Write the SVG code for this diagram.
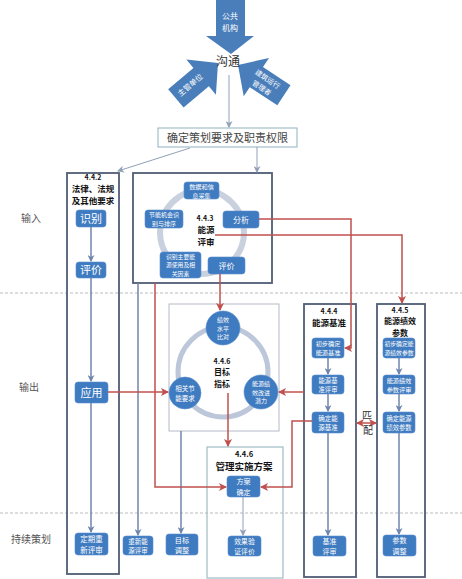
<svg xmlns="http://www.w3.org/2000/svg" width="462" height="579" viewBox="0 0 462 579">
<defs>
<style>
.lane{fill:none;stroke:#4f5d75;stroke-width:1.8}
.lite{fill:none;stroke:#b4bcc8;stroke-width:1}
.teal{fill:none;stroke:#9fbcc6;stroke-width:1.2}
.btn{fill:#3f7bc0;stroke:#5b8fcf;stroke-width:.6}
.wt{fill:#fff;font-family:"Noto Sans CJK SC",sans-serif;text-anchor:middle}
.bt{fill:#111;font-weight:bold;font-family:"Noto Sans CJK SC","Liberation Sans",sans-serif;text-anchor:middle}
.lbl{fill:#555;font-family:"Noto Sans CJK SC",sans-serif;text-anchor:middle;font-size:10px}
.gl{stroke:#6f85ad;stroke-width:1.5;fill:none}
.gt{stroke:#8fa0b8;stroke-width:1;fill:none}
.rl{stroke:#c0504d;stroke-width:1.5;fill:none}
.dash{stroke:#bbbbbb;stroke-width:1;stroke-dasharray:3 2;fill:none}
.big{fill:#4a7ebb}
</style>
<marker id="ag" markerUnits="userSpaceOnUse" markerWidth="7" markerHeight="7" refX="6" refY="3.5" orient="auto"><path d="M0,0 L7,3.5 L0,7 L2,3.5 z" fill="#6f85ad"/></marker>
<marker id="at" markerUnits="userSpaceOnUse" markerWidth="7" markerHeight="7" refX="6" refY="3.5" orient="auto"><path d="M0,0 L7,3.5 L0,7 L2,3.5 z" fill="#8fa0b8"/></marker>
<marker id="ar" markerUnits="userSpaceOnUse" markerWidth="8" markerHeight="8" refX="7" refY="4" orient="auto-start-reverse"><path d="M0,0 L8,4 L0,8 L2,4 z" fill="#c0504d"/></marker>
</defs>
<rect width="462" height="579" fill="#fff"/>

<g id="swimlanes">
<line class="dash" x1="0" y1="293" x2="462" y2="293"/>
<line class="dash" x1="0" y1="513" x2="462" y2="513"/>
<text class="lbl" x="31" y="222">输入</text>
<text class="lbl" x="29" y="391">输出</text>
<text class="lbl" x="31" y="543">持续策划</text>
</g>

<g id="communication">
<polygon class="big" points="216,0 245,0 245,36 254,36 231,54 206,36 216,36"/>
<text class="wt" font-size="8" x="230" y="19">公共<tspan x="230" dy="11.8">机构</tspan></text>
<polygon class="big" transform="translate(218,63) rotate(-40)" points="0,0 -22,-23 -22,-12 -55,-12 -55,12 -22,12 -22,23"/>
<text class="wt" font-size="7.5" transform="translate(192,87) rotate(-40)" x="0" y="0">主管单位</text>
<polygon class="big" transform="translate(238,65) rotate(-146.6)" points="0,0 -22,-23 -22,-12 -55,-12 -55,12 -22,12 -22,23"/>
<text class="wt" font-size="7" transform="translate(265,83) rotate(33.4)" x="0" y="-2">建筑运行<tspan x="0" dy="10.4">管理者</tspan></text>
<text x="228" y="65.5" font-size="12" fill="#333" text-anchor="middle" font-family="Noto Sans CJK SC,sans-serif">沟通</text>
</g>

<g id="plan-req">
<rect x="158" y="128" width="139" height="19" fill="#fff" stroke="#8fb3c0" stroke-width="1"/>
<text x="227.5" y="142" font-size="11" fill="#444" text-anchor="middle" font-family="Noto Sans CJK SC,sans-serif">确定策划要求及职责权限</text>
</g>

<g id="n442">
<rect class="lane" x="67" y="173" width="52" height="401"/>
<text class="bt" font-size="7" x="93" y="180">4.4.2<tspan x="93" dy="12" font-size="8.5">法律、法规</tspan><tspan x="93" dy="12.4" font-size="8.5">及其他要求</tspan></text>
<rect class="btn" x="76" y="210" width="30" height="17" rx="3"/>
<text class="wt" font-size="11" x="91" y="222.5">识别</text>
<rect class="btn" x="76" y="262" width="30" height="16" rx="3"/>
<text class="wt" font-size="11" x="91" y="274">评价</text>
<rect class="btn" x="75" y="382" width="33" height="21" rx="3"/>
<text class="wt" font-size="11" x="91.5" y="396.5">应用</text>
<rect class="btn" x="75" y="533" width="33" height="22" rx="3"/>
<text class="wt" font-size="7.5" x="91.5" y="541.5">定期重<tspan x="91.5" dy="11">新评审</tspan></text>
</g>

<g id="n443">
<rect class="lane" x="133" y="173" width="139" height="110"/>
<circle cx="202" cy="232" r="42" fill="none" stroke="#c9d1df" stroke-width="6"/>
<rect class="btn" x="184" y="182" width="35" height="17" rx="3"/>
<text class="wt" font-size="6.2" x="201.5" y="188.5">数据和信<tspan x="201.5" dy="9">息采集</tspan></text>
<rect class="btn" x="223" y="211" width="36" height="17" rx="3"/>
<text class="wt" font-size="8" x="241" y="222.5">分析</text>
<rect class="btn" x="208" y="257" width="37" height="17" rx="3"/>
<text class="wt" font-size="8" x="226.5" y="268.5">评价</text>
<rect class="btn" x="160" y="252" width="41" height="26" rx="3"/>
<text class="wt" font-size="5.8" x="180.5" y="259">识别主要能<tspan x="180.5" dy="8.4">源使用及相</tspan><tspan x="180.5" dy="8.4">关因素</tspan></text>
<rect class="btn" x="145" y="210" width="38" height="18" rx="3"/>
<text class="wt" font-size="6" x="164" y="217">节能机会识<tspan x="164" dy="8.7">别与排序</tspan></text>
<text class="bt" font-size="7" x="205" y="221">4.4.3<tspan x="206" dy="12" font-size="8.5">能源</tspan><tspan x="206" dy="12.4" font-size="8.5">评审</tspan></text>
</g>

<g id="n446-target">
<rect class="lite" x="169" y="304" width="110" height="127"/>
<circle cx="223" cy="372" r="45" fill="none" stroke="#bcc7da" stroke-width="5"/>
<circle class="btn" cx="223" cy="328" r="17"/>
<text class="wt" font-size="6" x="223" y="321.9">绩效<tspan x="223" dy="8.7">水平</tspan><tspan x="223" dy="8.7">比对</tspan></text>
<circle class="btn" cx="185" cy="393" r="16"/>
<text class="wt" font-size="6.5" x="185" y="391.1">相关节<tspan x="185" dy="9.4">能要求</tspan></text>
<circle class="btn" cx="261" cy="392" r="17"/>
<text class="wt" font-size="6" x="261" y="385.9">能源绩<tspan x="261" dy="8.7">效改进</tspan><tspan x="261" dy="8.7">潜力</tspan></text>
<text class="bt" font-size="7" x="222" y="364">4.4.6<tspan x="222" dy="11.4" font-size="8">目标</tspan><tspan x="222" dy="11.6" font-size="8">指标</tspan></text>
</g>

<g id="n446-plan">
<rect class="teal" x="207" y="447" width="76" height="131"/>
<text class="bt" font-size="7.5" x="244" y="457">4.4.6<tspan x="244" dy="13.2" font-size="9.5">管理实施方案</tspan></text>
<rect class="btn" x="227" y="476" width="33" height="21" rx="3"/>
<text class="wt" font-size="7" x="243.5" y="484.4">方案<tspan x="243.5" dy="10.2">确定</tspan></text>
<rect class="btn" x="228" y="536" width="33" height="20" rx="3"/>
<text class="wt" font-size="6.8" x="244.5" y="544">效果验<tspan x="244.5" dy="9.9">证评价</tspan></text>
</g>

<g id="review-bottom">
<rect class="btn" x="123" y="536" width="30" height="19" rx="3"/>
<text class="wt" font-size="6.5" x="138" y="543.6">重新能<tspan x="138" dy="9.4">源评审</tspan></text>
<rect class="btn" x="166" y="534" width="32" height="21" rx="3"/>
<text class="wt" font-size="7.2" x="182" y="542.6">目标<tspan x="182" dy="10.5">调整</tspan></text>
</g>

<g id="n444">
<rect class="lane" x="304" y="304" width="52" height="273"/>
<text class="bt" font-size="7" x="329" y="314">4.4.4<tspan x="329" dy="12" font-size="8.5">能源基准</tspan></text>
<rect class="btn" x="312" y="338" width="32" height="20" rx="3"/>
<text class="wt" font-size="6.2" x="328" y="346.2">初步确定<tspan x="328" dy="9">能源基准</tspan></text>
<rect class="btn" x="312" y="375" width="32" height="19" rx="3"/>
<text class="wt" font-size="6.3" x="328" y="382.7">能源基<tspan x="328" dy="9.2">准评审</tspan></text>
<rect class="btn" x="312" y="412" width="32" height="21" rx="3"/>
<text class="wt" font-size="6.5" x="328" y="420.6">确定能<tspan x="328" dy="9.4">源基准</tspan></text>
<rect class="btn" x="313" y="536" width="33" height="20" rx="3"/>
<text class="wt" font-size="7" x="329.5" y="544">基准<tspan x="329.5" dy="10.2">评审</tspan></text>
</g>

<g id="n445">
<rect class="lane" x="377" y="304" width="48" height="273"/>
<text class="bt" font-size="7" x="400" y="312.5">4.4.5<tspan x="400" dy="11.4" font-size="8">能源绩效</tspan><tspan x="400" dy="11.6" font-size="8">参数</tspan></text>
<rect class="btn" x="383" y="338" width="32" height="20" rx="3"/>
<text class="wt" font-size="5.8" x="399" y="346.3">初步确定能<tspan x="399" dy="8.5">源绩效参数</tspan></text>
<rect class="btn" x="383" y="375" width="32" height="19" rx="3"/>
<text class="wt" font-size="6.2" x="399" y="382.7">能源绩效<tspan x="399" dy="9">参数评审</tspan></text>
<rect class="btn" x="383" y="412" width="32" height="21" rx="3"/>
<text class="wt" font-size="6.3" x="399" y="420.6">确定能源<tspan x="399" dy="9.2">绩效参数</tspan></text>
<rect class="btn" x="383" y="535" width="33" height="21" rx="3"/>
<text class="wt" font-size="7.2" x="399.5" y="543.4">参数<tspan x="399.5" dy="10.5">调整</tspan></text>
</g>

<g id="connectors">
<path class="gt" d="M229,75 V127" marker-end="url(#at)"/>
<path class="gt" d="M190,148 L118,171" marker-end="url(#at)"/>
<path class="gt" d="M257,147 V172" marker-end="url(#at)"/>
<path class="gl" d="M91,227 V261" marker-end="url(#ag)"/>
<path class="gl" d="M91,278 V381" marker-end="url(#ag)"/>
<path class="gl" d="M91,403 V532" marker-end="url(#ag)"/>
<path class="gl" d="M138,283 V535" marker-end="url(#ag)"/>
<path class="gl" d="M181,431 V533" marker-end="url(#ag)"/>
<path class="gl" d="M328,358 V374" marker-end="url(#ag)"/>
<path class="gl" d="M328,394 V411" marker-end="url(#ag)"/>
<path class="gl" d="M328,433 V535" marker-end="url(#ag)"/>
<path class="gl" d="M399,358 V374" marker-end="url(#ag)"/>
<path class="gl" d="M399,394 V411" marker-end="url(#ag)"/>
<path class="gl" d="M399,433 V534" marker-end="url(#ag)"/>
<path class="gt" d="M243,497 V535" stroke="#a9b8d6" marker-end="url(#at)"/>
<path class="rl" d="M108,392 H168" marker-end="url(#ar)"/>
<path class="rl" d="M259,219 H351 V348 H345" marker-end="url(#ar)"/>
<path class="rl" d="M215,235 H402 V303" marker-end="url(#ar)"/>
<path class="rl" d="M220,274 V310" marker-end="url(#ar)"/>
<path class="rl" d="M155,283 V487 H226" marker-end="url(#ar)"/>
<path class="rl" d="M304,392 H279" marker-end="url(#ar)"/>
<path class="rl" d="M312,421 H292 V487 H261" marker-end="url(#ar)"/>
<path class="rl" d="M228,393 V446" marker-end="url(#ar)"/>
<path class="rl" d="M357,423 H376" marker-start="url(#ar)" marker-end="url(#ar)"/>
<text x="367" y="419" font-size="10" fill="#333" text-anchor="middle" font-family="Noto Sans CJK SC,sans-serif">匹<tspan x="368" dy="14.6">配</tspan></text>
</g>
</svg>
